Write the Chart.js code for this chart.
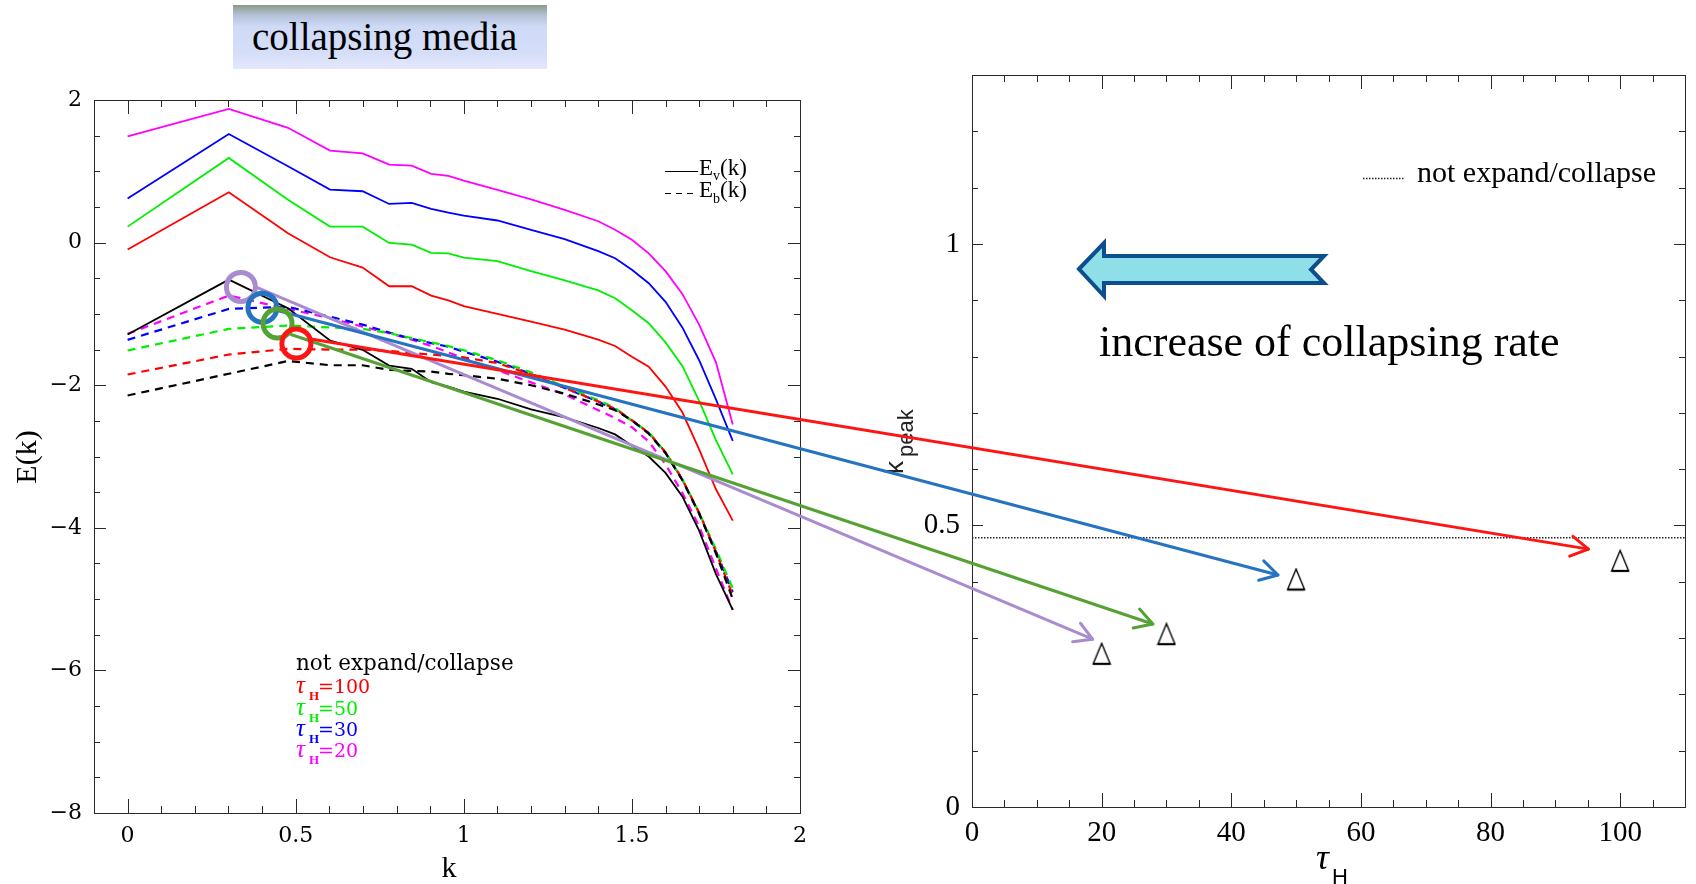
<!DOCTYPE html>
<html><head><meta charset="utf-8">
<script src="https://cdn.jsdelivr.net/npm/chart.js@4.4.0/dist/chart.umd.min.js"></script>
<style>
html,body{margin:0;padding:0;background:#fff;}
body{width:1696px;height:884px;position:relative;overflow:hidden;}
canvas{position:absolute;top:0;}
#cl{left:0;}
#cr{left:860px;}
#ov{left:0;pointer-events:none;}
#title{position:absolute;left:233px;top:5px;width:314px;height:64px;box-sizing:border-box;padding-left:19px;
 background:linear-gradient(to bottom,#8a9a88 0%,#b4c2d8 16%,#cfdaf7 34%,#d5def9 75%,#e3e8fb 100%);
 font-family:'Liberation Serif',serif;font-size:39px;line-height:64px;color:#000;white-space:nowrap;}
#note{position:absolute;left:1099px;top:320px;font-family:'Liberation Serif',serif;font-size:44px;line-height:44px;color:#000;white-space:nowrap;}
</style></head>
<body>
<canvas id="cl" width="860" height="884"></canvas>
<canvas id="cr" width="836" height="884"></canvas>
<canvas id="ov" width="1696" height="884"></canvas>
<div id="title">collapsing media</div>
<div id="note">increase of collapsing rate</div>
<script>
// ---------------- data (left panel: E(k) vs k) ----------------
const kVals = [0, 0.301, 0.477, 0.602, 0.699, 0.778, 0.845, 0.903, 0.954, 1.0, 1.1, 1.2, 1.3, 1.4, 1.45, 1.5, 1.55, 1.6, 1.65, 1.7, 1.75, 1.8];
// solid: E_v(k)
const evNoExpand = [-1.289, -0.519, -0.92, -1.373, -1.504, -1.724, -1.77, -1.958, -2.02, -2.09, -2.19, -2.34, -2.45, -2.6, -2.69, -2.85, -3.0, -3.23, -3.56, -4.04, -4.65, -5.15];
const evTau100 = [-0.098, 0.705, 0.13, -0.206, -0.35, -0.612, -0.612, -0.743, -0.81, -0.89, -1.0, -1.11, -1.22, -1.36, -1.45, -1.6, -1.74, -2.02, -2.38, -2.9, -3.46, -3.9];
const evTau50 = [0.224, 1.187, 0.6, 0.224, 0.224, -0.005, -0.028, -0.145, -0.15, -0.21, -0.26, -0.40, -0.53, -0.67, -0.78, -0.95, -1.13, -1.40, -1.73, -2.22, -2.77, -3.25];
const evTau30 = [0.62, 1.523, 1.07, 0.743, 0.72, 0.542, 0.556, 0.472, 0.42, 0.378, 0.31, 0.18, 0.05, -0.12, -0.22, -0.38, -0.57, -0.83, -1.19, -1.65, -2.2, -2.78];
const evTau20 = [1.49, 1.874, 1.61, 1.29, 1.25, 1.093, 1.08, 0.963, 0.935, 0.87, 0.74, 0.605, 0.46, 0.30, 0.18, 0.04, -0.15, -0.40, -0.72, -1.15, -1.68, -2.55];
// dashed: E_b(k)
const ebNoExpand = [-2.144, -1.84, -1.66, -1.72, -1.72, -1.785, -1.80, -1.81, -1.84, -1.86, -1.91, -2.0, -2.12, -2.27, -2.35, -2.49, -2.68, -2.95, -3.33, -3.8, -4.36, -5.0];
const ebTau100 = [-1.85, -1.57, -1.49, -1.5, -1.5, -1.52, -1.55, -1.57, -1.59, -1.61, -1.69, -1.85, -2.04, -2.23, -2.33, -2.49, -2.67, -2.94, -3.32, -3.79, -4.34, -4.95];
const ebTau50 = [-1.514, -1.21, -1.163, -1.19, -1.21, -1.27, -1.34, -1.40, -1.45, -1.51, -1.65, -1.82, -2.02, -2.21, -2.32, -2.5, -2.66, -2.94, -3.32, -3.79, -4.3, -4.85];
const ebTau30 = [-1.364, -0.93, -0.9, -1.04, -1.15, -1.26, -1.35, -1.41, -1.46, -1.53, -1.67, -1.84, -2.04, -2.23, -2.34, -2.5, -2.67, -2.95, -3.33, -3.8, -4.33, -4.9];
const ebTau20 = [-1.28, -0.743, -0.93, -1.06, -1.18, -1.27, -1.36, -1.45, -1.54, -1.62, -1.79, -1.96, -2.13, -2.35, -2.46, -2.59, -2.79, -3.11, -3.51, -3.98, -4.57, -5.15];
const leftKTicks = [0, 0.5, 1, 1.5, 2];
const leftETicks = [2, 0, -2, -4, -6, -8];
const legendLabels = ['not expand/collapse', '=100', '=50', '=30', '=20'];

// ---------------- data (right panel: k_peak vs tau_H) ----------------
const tauH = [20, 30, 50, 100];
const kPeak = [0.272, 0.307, 0.404, 0.437];
const kPeakNoExpand = 0.478;
const tauRange = [0, 110];
const tauTicks = [0, 20, 40, 60, 80, 100];
const kPeakTicks = [0, 0.5, 1];

// ---------------- annotation anchors (data coords) ----------------
// order: lavender, blue, green, red
const circleK = [0.337, 0.401, 0.446, 0.502];
const circleE = [-0.621, -0.915, -1.135, -1.416];
const lineStartK = [0.382, 0.446, 0.486, 0.5405];
const lineStartE = [-0.626, -0.953, -1.289, -1.35];
const arrowEndTau = [18.6, 47.2, 27.9, 95.1];
const arrowEndK = [0.298, 0.412, 0.325, 0.458];
const annColors = ['#a98bd0', '#2574c2', '#55a234', '#ff1414'];

const C = {black:'#000000', red:'#ff0000', green:'#00ee00', blue:'#0000ff', mag:'#ff00ff'};
const SERIF = "'Liberation Serif', serif";
const WSERIF = "'DejaVu Serif', serif";
const fmt = v => (v < 0 ? '\u2212' + Math.abs(v) : String(v));
const pts = arr => kVals.map((k, i) => ({x: k, y: arr[i]}));
function series(arr, color, dashed) {
  return {data: pts(arr), borderColor: color, borderWidth: dashed ? 2.2 : 1.8,
    borderDash: dashed ? [8, 6] : [], pointRadius: 0, tension: 0, fill: false};
}
function isMajor(v, step) { const r = v / step; return Math.abs(r - Math.round(r)) < 1e-6; }

function frameAndTicks(chart, xs, ys) {
  const {ctx, chartArea: a, scales: {x, y}} = chart;
  ctx.save();
  ctx.strokeStyle = '#2a2a2a'; ctx.lineWidth = 1;
  ctx.strokeRect(Math.round(a.left) + 0.5, Math.round(a.top) + 0.5, Math.round(a.right - a.left), Math.round(a.bottom - a.top));
  ctx.beginPath();
  for (let v = xs.from; v <= xs.to + 1e-9; v += xs.step) {
    const px = Math.round(x.getPixelForValue(v)) + 0.5;
    const L = isMajor(v, xs.major) ? xs.maj : xs.min;
    ctx.moveTo(px, a.bottom); ctx.lineTo(px, a.bottom - L);
    ctx.moveTo(px, a.top); ctx.lineTo(px, a.top + L);
  }
  for (let v = ys.from; v <= ys.to + 1e-9; v += ys.step) {
    const py = Math.round(y.getPixelForValue(v)) + 0.5;
    const L = isMajor(v, ys.major) ? ys.maj : ys.min;
    ctx.moveTo(a.left, py); ctx.lineTo(a.left + L, py);
    ctx.moveTo(a.right, py); ctx.lineTo(a.right - L, py);
  }
  ctx.stroke();
  ctx.restore();
}

const leftDecor = {
  id: 'leftDecor',
  afterDraw(chart) {
    frameAndTicks(chart, {from: 0, to: 2, step: 0.1, major: 0.5, maj: 14, min: 7},
                         {from: -8, to: 2, step: 0.5, major: 2, maj: 12, min: 6});
    const ctx = chart.ctx;
    ctx.save();
    ctx.fillStyle = '#000';
    // axis titles
    ctx.font = '30px ' + SERIF; ctx.textAlign = 'center'; ctx.textBaseline = 'alphabetic';
    ctx.fillText('k', 449, 877);
    ctx.save(); ctx.translate(36, 457); ctx.rotate(-Math.PI / 2);
    ctx.font = '30px ' + SERIF; ctx.fillText('E(k)', 0, 0); ctx.restore();
    // Ev / Eb legend
    ctx.textAlign = 'left';
    ctx.strokeStyle = '#000'; ctx.lineWidth = 1.2;
    ctx.beginPath(); ctx.moveTo(665, 171.5); ctx.lineTo(698, 171.5); ctx.stroke();
    ctx.setLineDash([6, 5]); ctx.beginPath(); ctx.moveTo(665, 193.5); ctx.lineTo(698, 193.5); ctx.stroke(); ctx.setLineDash([]);
    ctx.font = '23px ' + SERIF; ctx.fillText('E', 699, 175); ctx.fillText('(k)', 720, 175);
    ctx.fillText('E', 699, 197); ctx.fillText('(k)', 720, 197);
    ctx.font = '14px ' + SERIF; ctx.fillText('v', 713, 180); ctx.fillText('b', 713, 203);
    // colour legend
    ctx.font = '21.5px ' + WSERIF; ctx.fillText(legendLabels[0], 296, 670);
    const cols = [C.red, C.green, C.blue, C.mag];
    const bases = [693, 715, 736, 757];
    cols.forEach((c, i) => {
      ctx.fillStyle = c;
      ctx.font = 'italic 25px ' + SERIF; ctx.fillText('\u03C4', 296, bases[i]);
      ctx.font = 'bold 13px ' + SERIF; ctx.fillText('H', 309, bases[i] + 7);
      ctx.font = '19px ' + WSERIF; ctx.fillText(legendLabels[i + 1], 318, bases[i]);
    });
    ctx.restore();
  }
};

const rightDecor = {
  id: 'rightDecor',
  afterDraw(chart) {
    frameAndTicks(chart, {from: 0, to: 110, step: 5, major: 20, maj: 14, min: 7},
                         {from: 0, to: 1.3, step: 0.1, major: 0.5, maj: 11, min: 6});
    const ctx = chart.ctx;
    ctx.save();
    ctx.fillStyle = '#000'; ctx.textAlign = 'left'; ctx.textBaseline = 'alphabetic';
    // tau_H title
    ctx.font = 'italic 36px ' + SERIF; ctx.fillText('\u03C4', 1316 - 860, 869);
    ctx.font = "22px 'Liberation Sans', sans-serif"; ctx.fillText('H', 1332 - 860, 884);
    // k_peak title (rotated)
    ctx.save(); ctx.translate(903 - 860, 474); ctx.rotate(-Math.PI / 2);
    ctx.fillStyle = '#222';
    ctx.font = "26px 'Liberation Sans', sans-serif"; ctx.fillText('k', 0, 0);
    ctx.font = "22px 'Liberation Sans', sans-serif"; ctx.fillText('peak', 17, 10);
    ctx.restore();
    // legend
    ctx.strokeStyle = '#222'; ctx.lineWidth = 1.5; ctx.setLineDash([1.5, 1.5]);
    ctx.beginPath(); ctx.moveTo(1363 - 860, 178.5); ctx.lineTo(1404 - 860, 178.5); ctx.stroke();
    ctx.setLineDash([]);
    ctx.font = '30px ' + SERIF; ctx.fillText(legendLabels[0], 1417 - 860, 182);
    ctx.restore();
  }
};

const baseOpts = {responsive: false, animation: false, events: [],
  plugins: {legend: {display: false}, tooltip: {enabled: false}}};

const left = new Chart(document.getElementById('cl'), {
  type: 'line',
  data: {datasets: [
    series(evNoExpand, C.black, false), series(evTau100, C.red, false), series(evTau50, C.green, false),
    series(evTau30, C.blue, false), series(evTau20, C.mag, false),
    series(ebNoExpand, C.black, true), series(ebTau100, C.red, true), series(ebTau50, C.green, true),
    series(ebTau30, C.blue, true), series(ebTau20, C.mag, true)
  ]},
  options: Object.assign({}, baseOpts, {
    layout: {padding: {top: 100, right: 60, left: 0, bottom: 0}},
    scales: {
      x: {type: 'linear', min: -0.1, max: 2,
        afterBuildTicks: s => { s.ticks = leftKTicks.map(v => ({value: v})); },
        afterFit: s => { s.height = 71; },
        grid: {display: false, drawTicks: false}, border: {display: false},
        ticks: {autoSkip: false, maxRotation: 0, padding: 10, color: '#000', font: {family: 'DejaVu Serif', size: 22}, callback: v => fmt(v)}},
      y: {type: 'linear', min: -8, max: 2,
        afterBuildTicks: s => { s.ticks = leftETicks.map(v => ({value: v})); },
        afterFit: s => { s.width = 94; },
        grid: {display: false, drawTicks: false}, border: {display: false},
        ticks: {autoSkip: false, padding: 12, color: '#000', font: {family: 'DejaVu Serif', size: 22}, callback: v => fmt(v)}}
    }
  }),
  plugins: [leftDecor]
});

// triangle marker
const tri = document.createElement('canvas'); tri.width = 20; tri.height = 24;
(function () {
  const c = tri.getContext('2d');
  c.fillStyle = '#fff'; c.strokeStyle = '#000'; c.lineWidth = 1.4;
  c.beginPath(); c.moveTo(10, 1.5); c.lineTo(18.5, 22); c.lineTo(1.5, 22); c.closePath(); c.fill(); c.stroke();
  c.lineWidth = 2.2; c.beginPath(); c.moveTo(1.5, 22); c.lineTo(18.5, 22); c.stroke();
})();

const right = new Chart(document.getElementById('cr'), {
  type: 'scatter',
  data: {datasets: [
    {data: tauRange.map(t => ({x: t, y: kPeakNoExpand})), showLine: true, borderColor: '#222', borderWidth: 1.5,
      borderDash: [1.5, 1.5], pointRadius: 0},
    {data: tauH.map((t, i) => ({x: t, y: kPeak[i]})), showLine: false, pointStyle: tri, pointRadius: 10}
  ]},
  options: Object.assign({}, baseOpts, {
    layout: {padding: {top: 75, right: 8, left: 0, bottom: 0}},
    scales: {
      x: {type: 'linear', min: tauRange[0], max: tauRange[1],
        afterBuildTicks: s => { s.ticks = tauTicks.map(v => ({value: v})); },
        afterFit: s => { s.height = 77; },
        grid: {display: false, drawTicks: false}, border: {display: false},
        ticks: {autoSkip: false, maxRotation: 0, padding: 9, color: '#000', font: {family: 'Liberation Serif', size: 29}, callback: v => fmt(v)}},
      y: {type: 'linear', min: 0, max: 1.3,
        afterBuildTicks: s => { s.ticks = kPeakTicks.map(v => ({value: v})); },
        afterFit: s => { s.width = 112; },
        grid: {display: false, drawTicks: false}, border: {display: false},
        ticks: {autoSkip: false, padding: 12, color: '#000', font: {family: 'Liberation Serif', size: 29}, callback: v => fmt(v)}}
    }
  }),
  plugins: [rightDecor]
});

// ---------------- overlay: circles, arrows, block arrow ----------------
(function drawOverlay() {
  const ctx = document.getElementById('ov').getContext('2d');
  const lx = left.scales.x, ly = left.scales.y, rx = right.scales.x, ry = right.scales.y;
  const L = (k, e) => [lx.getPixelForValue(k), ly.getPixelForValue(e)];
  const R = (t, kp) => [860 + rx.getPixelForValue(t), ry.getPixelForValue(kp)];
  ctx.lineCap = 'round'; ctx.lineJoin = 'round';
  for (let i = 0; i < annColors.length; i++) {
    const [x0, y0] = L(lineStartK[i], lineStartE[i]);
    const [x1, y1] = R(arrowEndTau[i], arrowEndK[i]);
    ctx.strokeStyle = annColors[i]; ctx.lineWidth = 3;
    ctx.beginPath(); ctx.moveTo(x0, y0); ctx.lineTo(x1, y1); ctx.stroke();
    const ang = Math.atan2(y1 - y0, x1 - x0), hl = 20, ha = Math.PI / 6;
    ctx.beginPath();
    ctx.moveTo(x1 - hl * Math.cos(ang - ha), y1 - hl * Math.sin(ang - ha));
    ctx.lineTo(x1, y1);
    ctx.lineTo(x1 - hl * Math.cos(ang + ha), y1 - hl * Math.sin(ang + ha));
    ctx.stroke();
  }
  for (let i = 0; i < annColors.length; i++) {
    const [cx, cy] = L(circleK[i], circleE[i]);
    ctx.strokeStyle = annColors[i]; ctx.lineWidth = 5;
    ctx.beginPath(); ctx.arc(cx, cy, 14.5, 0, Math.PI * 2); ctx.stroke();
  }
  // block arrow "increase of collapsing rate"
  ctx.beginPath();
  ctx.moveTo(1079, 269); ctx.lineTo(1104, 243); ctx.lineTo(1104, 256); ctx.lineTo(1324, 256);
  ctx.lineTo(1311, 269.5); ctx.lineTo(1324, 283); ctx.lineTo(1104, 283); ctx.lineTo(1104, 296); ctx.closePath();
  ctx.fillStyle = '#8fdfe8'; ctx.fill();
  ctx.lineJoin = 'miter'; ctx.strokeStyle = '#0d4e8c'; ctx.lineWidth = 4; ctx.stroke();
})();
</script>
</body></html>
